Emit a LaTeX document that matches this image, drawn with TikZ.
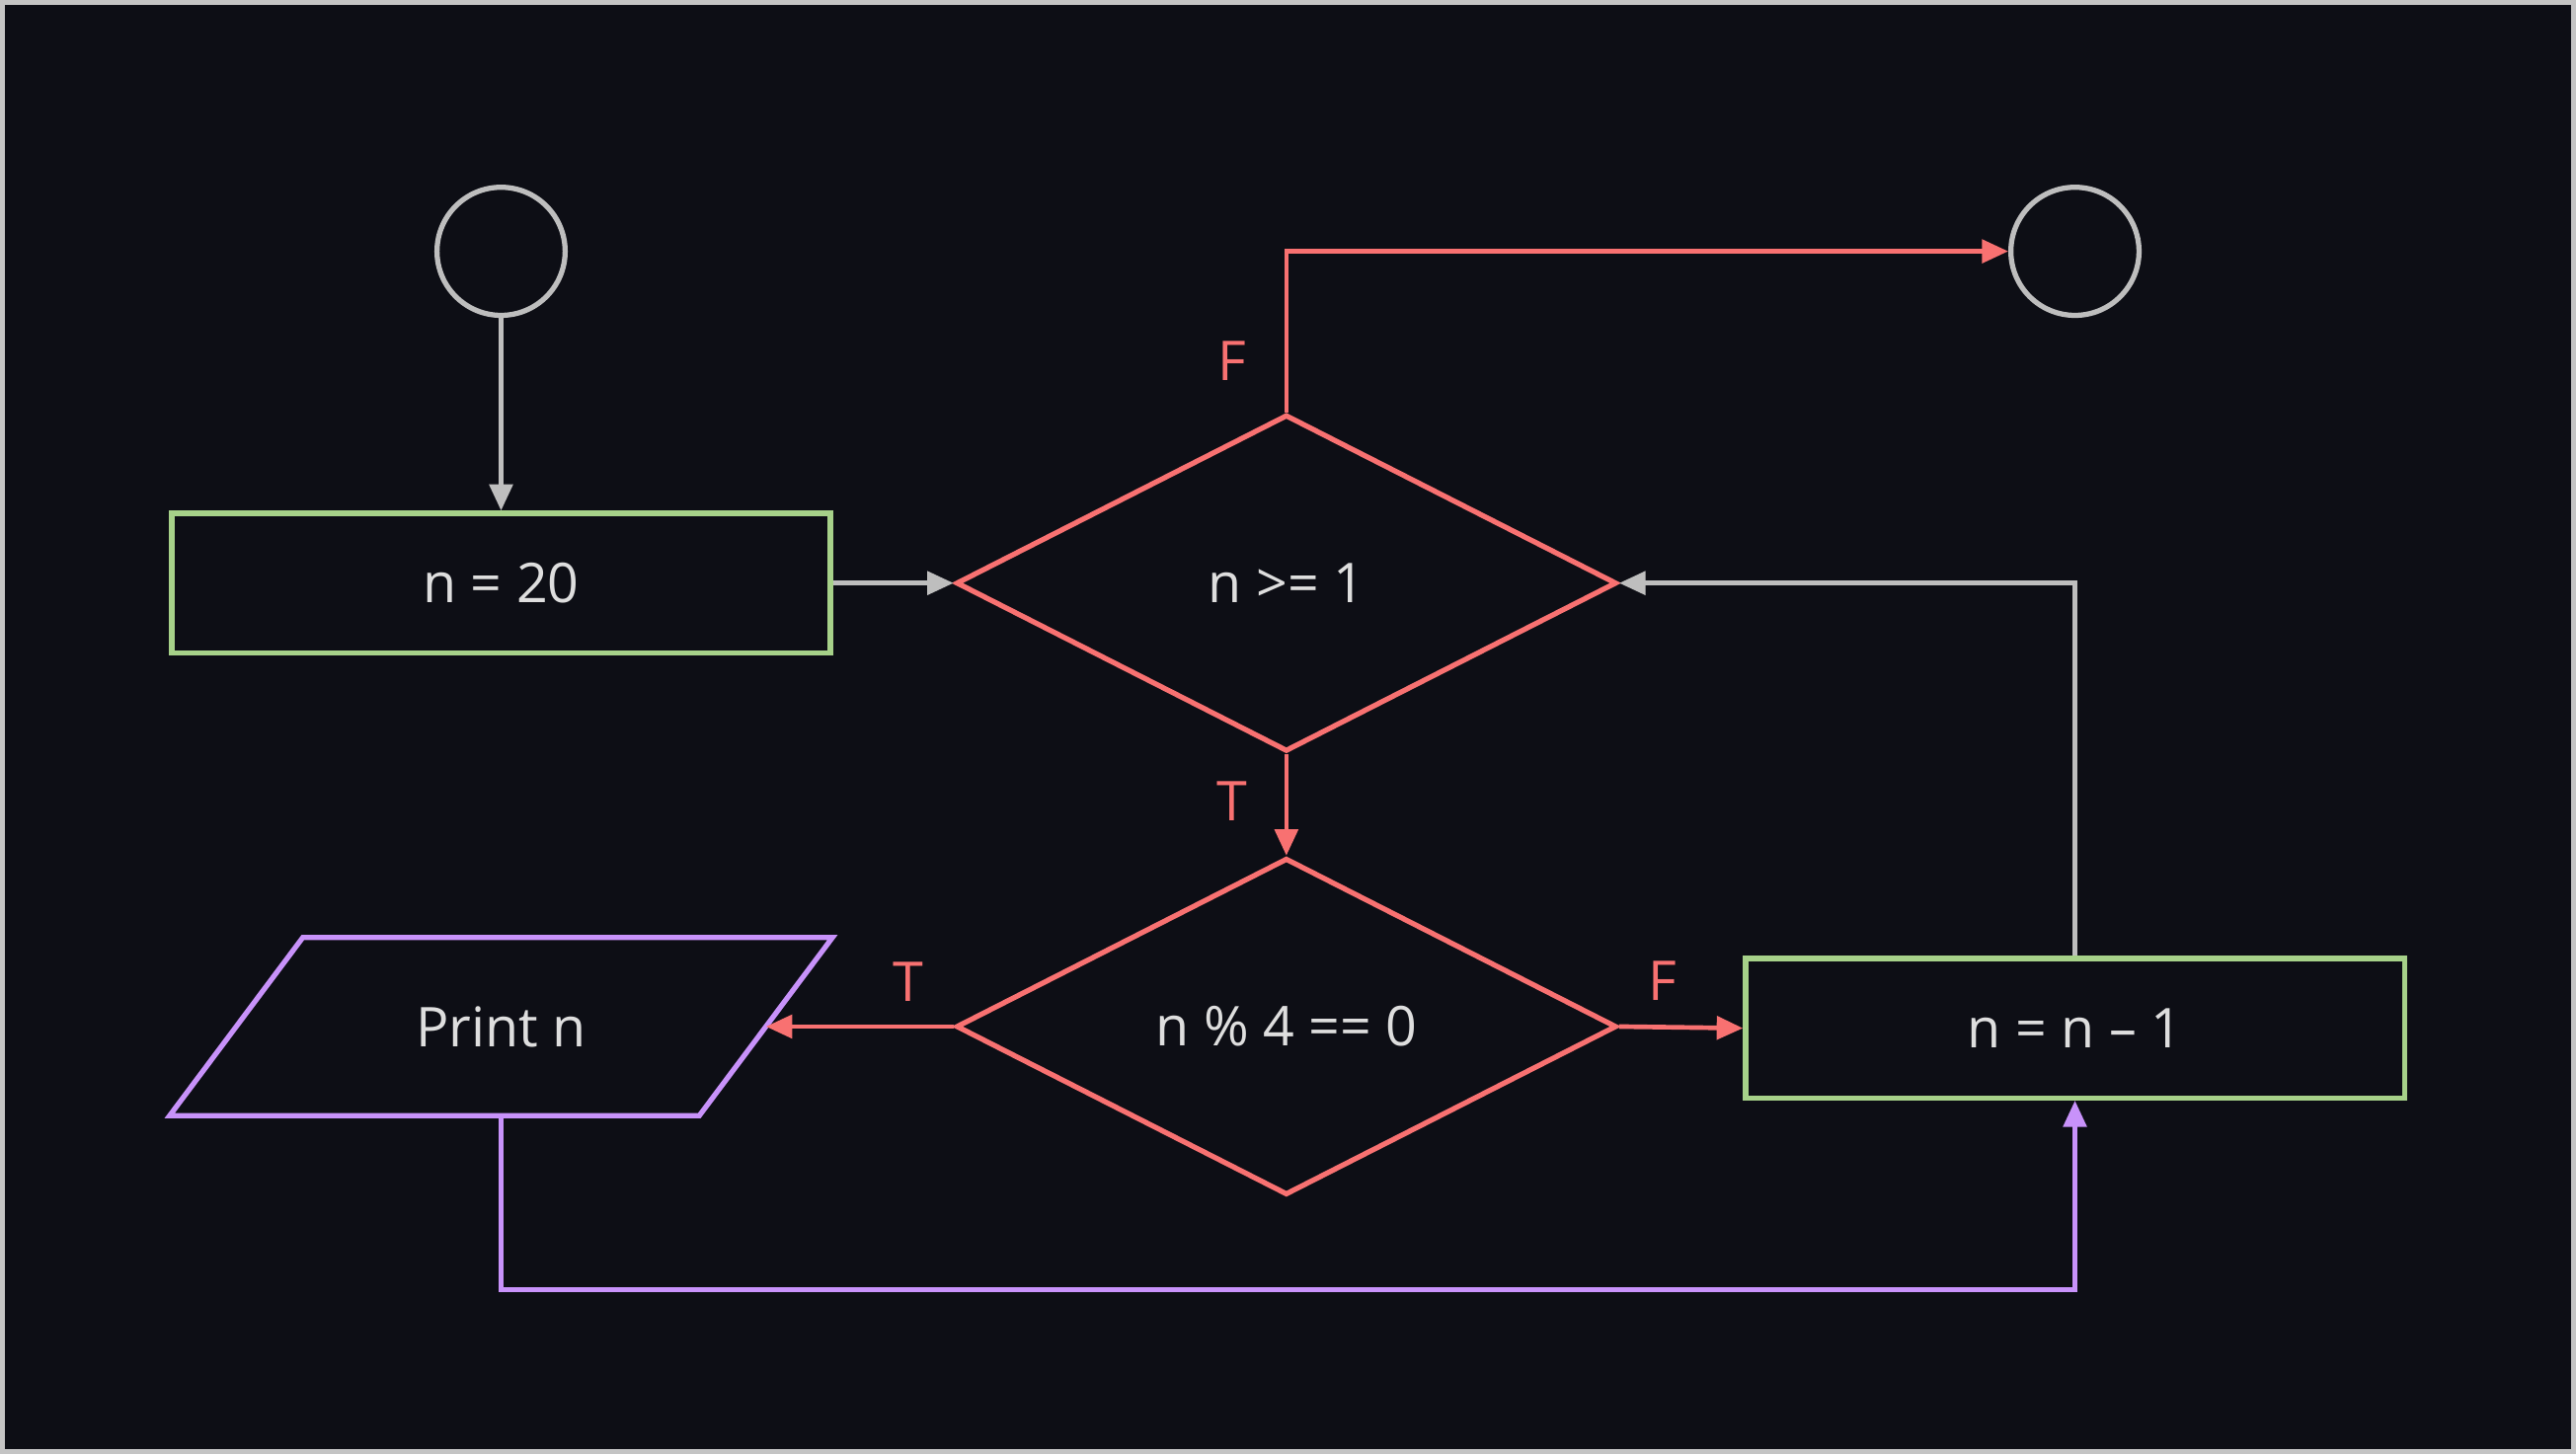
\documentclass[tikz,border=0pt]{standalone}
\usepackage{fontspec}
\setmainfont{Open Sans}
\usepackage{xcolor}
\definecolor{CanvasBg}{RGB}{13,14,21}
\definecolor{FrameGray}{RGB}{196,196,196}
\definecolor{TextLight}{RGB}{222,222,222}
\definecolor{LineGray}{RGB}{190,190,190}
\definecolor{BranchRed}{RGB}{248,113,113}
\definecolor{StepGreen}{RGB}{166,209,137}
\definecolor{IoPurple}{RGB}{200,146,250}
\usepackage{tikz}
\usetikzlibrary{
  positioning,
  arrows.meta,
  shapes.geometric
}
\tikzset{
  % Start / stop terminal
  termnode/.style={
    circle,
    draw=LineGray,
    line width=0.9pt,
    minimum size=7.8mm,
    inner sep=0pt
  },
  % Process box
  procnode/.style={
    rectangle,
    draw=StepGreen,
    line width=0.9pt,
    minimum width=40.1mm,
    minimum height=8.5mm,
    inner sep=0pt,
    text=TextLight,
    font=\fontsize{9.5}{11}\selectfont
  },
  % Decision
  decnode/.style={
    diamond,
    draw=BranchRed,
    line width=0.9pt,
    minimum width=40.2mm,
    minimum height=20.5mm,
    inner sep=0pt,
    text=TextLight,
    font=\fontsize{9.5}{11}\selectfont
  },
  % Input / output (box along the mid line, sides drawn slanted)
  ionode/.style={
    rectangle,
    minimum width=32.1mm,
    minimum height=10.7mm,
    inner sep=0pt,
    text=TextLight,
    font=\fontsize{9.5}{11}\selectfont
  },
  ioside/.style={
    draw=IoPurple,
    line width=0.9pt,
    line join=miter
  },
  % Connectors
  flow/.style={
    draw=LineGray,
    line width=0.8pt,
    -{Triangle[length=1.6mm,width=1.4mm]}
  },
  rflow/.style={flow, draw=BranchRed},
  pflow/.style={flow, draw=IoPurple},
  % Branch label
  blabel/.style={
    text=BranchRed,
    font=\fontsize{9.5}{11}\selectfont
  }
}

\begin{document}
\begin{tikzpicture}
  \useasboundingbox (0,0) rectangle (15.68,8.85);
  \fill[FrameGray] (0,0) rectangle (15.68,8.85);
  \fill[CanvasBg] (0.03,0.03) rectangle (15.65,8.82);

  \node[termnode] (start) at (3.05,7.32) {};
  \node[termnode] (stop)  at (12.63,7.32) {};
  \node[procnode] (init)  at (3.05,5.30) {n = 20};
  \node[decnode]  (cond)  at (7.83,5.30) {n >= 1};
  \node[decnode]  (check) at (7.83,2.60) {n \% 4 == 0};
  \node[ionode]   (print) at (3.05,2.60) {Print n};
  \node[procnode] (dec)   at (12.63,2.59) {n = n – 1};
  \coordinate (low) at (7.83,1.00);

  \draw[ioside] ([xshift=-4.05mm]print.south west) -- ([xshift=-4.05mm]print.south east)
    -- ([xshift=4.05mm]print.north east) -- ([xshift=4.05mm]print.north west) -- cycle;

  \draw[flow] (start) -- (init);
  \draw[flow] (init) -- (cond);
  \draw[rflow] (cond.north) |- (stop.west);
  \draw[rflow] (cond.south) -- (check.north);
  \draw[rflow] (check.west) -- (print.east);
  \draw[rflow] (check.east) -- (dec.west);
  \draw[flow] (dec.north) |- (cond.east);
  \draw[pflow] (print.south) |- (low) -| (dec.south);

  % Branch labels
  \node[blabel] (lf1) at (7.50,6.65) {F};
  \node[blabel] (lt1) at (7.50,3.97) {T};
  \node[blabel] (lt2) at (5.53,2.87) {T};
  \node[blabel] (lf2) at (10.12,2.88) {F};
\end{tikzpicture}
\end{document}
